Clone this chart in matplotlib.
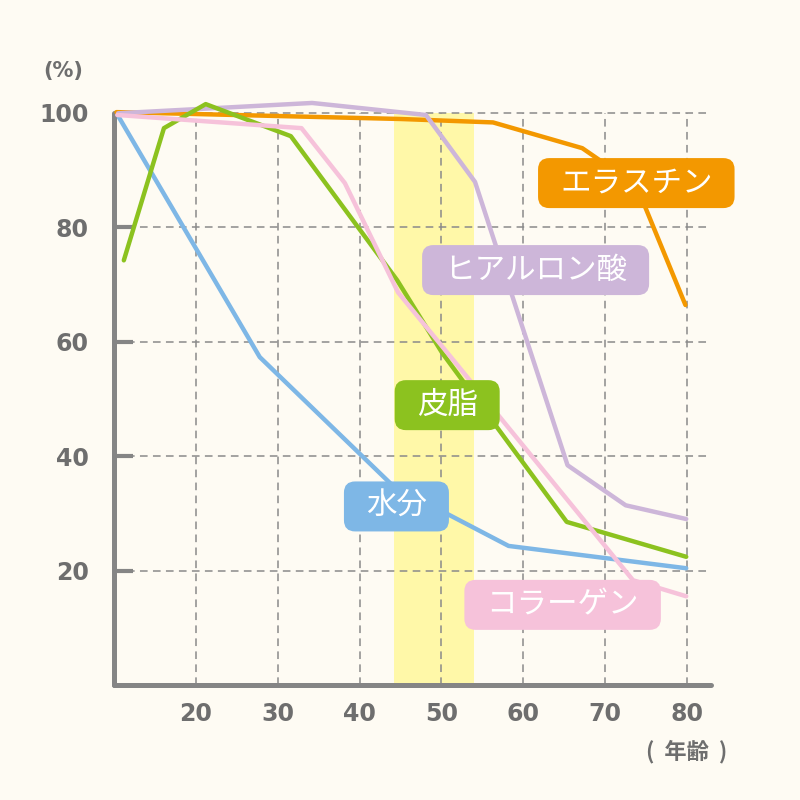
import matplotlib
matplotlib.use('Agg')
import matplotlib.pyplot as plt
from matplotlib.patches import FancyBboxPatch

plt.rcParams['font.family'] = ['Noto Sans CJK JP', 'DejaVu Sans']

# data (age, %)
water_x = [10.6, 27.8, 44.0, 58.2, 79.9]
water_y = [99.2, 57.3, 34.9, 24.3, 20.4]

elastin_x = [10.3, 45.0, 56.3, 67.2, 73.8, 79.8]
elastin_y = [100.1, 98.9, 98.3, 93.8, 87.3, 66.4]

hyal_x = [10.5, 34.2, 48.1, 54.1, 65.4, 72.5, 79.9]
hyal_y = [99.9, 101.7, 99.6, 87.9, 38.4, 31.4, 29.0]

sebum_x = [11.2, 16.1, 21.2, 31.6, 44.6, 50.1, 65.3, 79.9]
sebum_y = [74.2, 97.3, 101.5, 95.9, 70.7, 58.0, 28.5, 22.4]

collagen_x = [10.4, 32.9, 38.2, 44.7, 73.4, 79.9]
collagen_y = [99.6, 97.3, 87.7, 68.6, 18.3, 15.5]

xticks = [20, 30, 40, 50, 60, 70, 80]
yticks = [20, 40, 60, 80, 100]
band = (44.2, 54.0)

bg = '#fefbf3'
gray = '#858585'
c_orange = '#f39800'
c_purple = '#cdb6d9'
c_green = '#8cc21f'
c_blue = '#7eb7e6'
c_pink = '#f6c2da'

fig = plt.figure(figsize=(8, 8), dpi=100, facecolor=bg)
ax = fig.add_axes([0.1425, 0.14375, 0.746, 0.744])
ax.set_facecolor(bg)
ax.set_xlim(10, 82.9)
ax.set_ylim(0, 104)

# yellow band
ax.axvspan(band[0], band[1], ymin=0, ymax=100 / 104, color='#fff8a8', lw=0, zorder=0)

# dashed grid
ax.vlines(xticks, 0, 100, colors='#8a8a8a', linestyles=(0, (5, 3.5)), lw=1.1, zorder=1)
ax.hlines(yticks, 10, 82.6, colors='#8a8a8a', linestyles=(0, (5, 3.5)), lw=1.1, zorder=1)

lw = 3.2
ax.plot(water_x, water_y, color=c_blue, lw=lw, zorder=3, solid_capstyle='round', clip_on=False)
ax.plot(elastin_x, elastin_y, color=c_orange, lw=lw, zorder=3, solid_capstyle='round', clip_on=False)
ax.plot(hyal_x, hyal_y, color=c_purple, lw=lw, zorder=3, solid_capstyle='round', clip_on=False)
ax.plot(sebum_x, sebum_y, color=c_green, lw=lw, zorder=4, solid_capstyle='round', clip_on=False)
ax.plot(collagen_x, collagen_y, color=c_pink, lw=lw, zorder=4, solid_capstyle='round', clip_on=False)

# label boxes
labels = [
    ('エラスチン', 73.8, 87.7, c_orange),
    ('ヒアルロン酸', 61.5, 72.5, c_purple),
    ('皮脂', 50.7, 48.9, c_green),
    ('水分', 44.5, 31.2, c_blue),
    ('コラーゲン', 64.8, 14.0, c_pink),
]
fig.canvas.draw()
renderer = fig.canvas.get_renderer()
for txt, x, y, c in labels:
    t = ax.text(x, y, txt, color='white', fontsize=22, ha='center', va='center', zorder=10)
    bb = t.get_window_extent(renderer)
    cx, cy = ax.transData.transform((x, y))
    w = bb.width + 44
    h = 50
    box = FancyBboxPatch(((cx - w / 2) / 800, (cy - h / 2) / 800), w / 800, h / 800,
                         boxstyle='round,pad=0,rounding_size=0.014', fc=c, ec='none',
                         transform=fig.transFigure, zorder=9, clip_on=False)
    ax.add_patch(box)

# axes styling
for s in ['top', 'right']:
    ax.spines[s].set_visible(False)
ax.spines['left'].set_bounds(0, 100)
for s in ['left', 'bottom']:
    ax.spines[s].set_color(gray)
    ax.spines[s].set_linewidth(3.6)
    ax.spines[s].set_capstyle('round')

ax.set_yticks(yticks)
ax.set_xticks(xticks)
ax.tick_params(axis='y', direction='in', length=14, width=3, color=gray, pad=18,
               labelsize=17, labelcolor='#6e6e6e')
ax.tick_params(axis='x', length=0, pad=12, labelsize=17, labelcolor='#6e6e6e')
for lab in ax.get_xticklabels() + ax.get_yticklabels():
    lab.set_fontweight('bold')
    lab.set_family('DejaVu Sans')

fig.text(63 / 800, 1 - 71 / 800, '(%)', color='#6e6e6e', fontsize=15, fontweight='bold',
         ha='center', va='center', family='DejaVu Sans')
fig.text(687 / 800, 1 - 752 / 800, '(  年齢  )', color='#6e6e6e', fontsize=16, fontweight='bold',
         ha='center', va='center')

fig.savefig('out.png', dpi=100, facecolor=bg)
